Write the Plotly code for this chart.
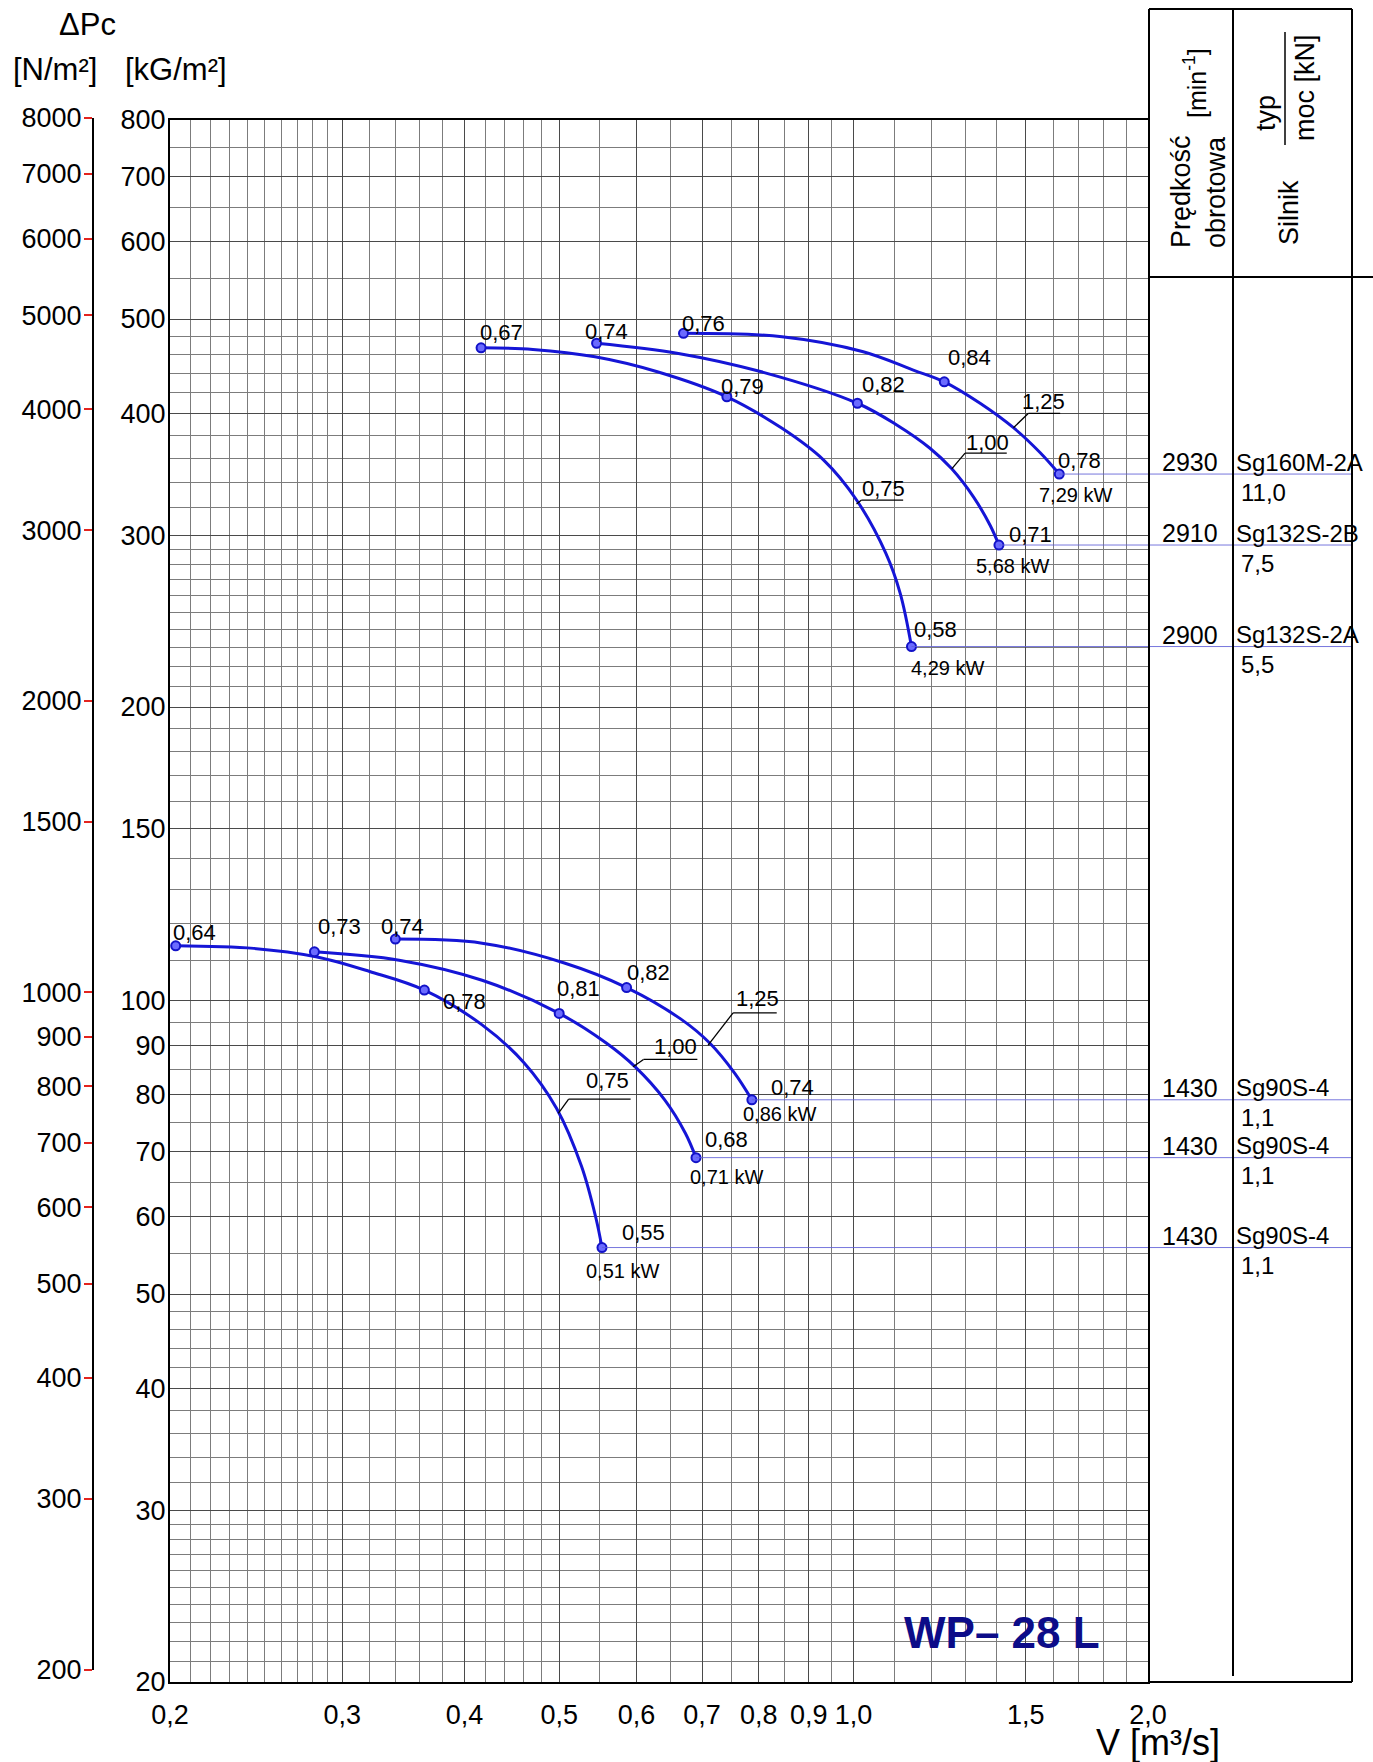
import math
import plotly.graph_objects as go

# ---------------------------------------------------------------
# WP-28 L fan characteristics
# V - volume flow [m3/s], dPc - pressure [kG/m2]
# ---------------------------------------------------------------

# n ~ 2900 min^-1
v_hi_075 = [0.416, 0.470, 0.544, 0.630, 0.742, 0.845, 0.932, 1.007, 1.079, 1.116, 1.146]
p_hi_075 = [467.1, 465.3, 457.3, 441.4, 416.1, 386.2, 358.3, 326.1, 287.5, 261.6, 230.7]
eff_hi_075 = ["0,67", "0,79", "0,58"]

v_hi_100 = [0.546, 0.662, 0.805, 1.009, 1.107, 1.197, 1.260, 1.326, 1.379, 1.408]
p_hi_100 = [472.2, 461.0, 441.4, 409.8, 389.3, 368.5, 351.0, 328.5, 307.2, 293.2]
eff_hi_100 = ["0,74", "0,82", "0,71"]

v_hi_125 = [0.670, 0.845, 1.023, 1.151, 1.238, 1.347, 1.457, 1.551, 1.623]
p_hi_125 = [483.4, 479.5, 462.8, 443.2, 431.1, 409.8, 386.8, 364.8, 346.7]
eff_hi_125 = ["0,76", "0,84", "0,78"]

# n = 1430 min^-1
v_lo_075 = [0.2027, 0.2436, 0.282, 0.320, 0.364, 0.417, 0.460, 0.497, 0.527, 0.545, 0.553]
p_lo_075 = [113.8, 113.1, 110.9, 107.1, 102.5, 94.4, 86.4, 77.5, 67.6, 59.9, 55.8]
eff_lo_075 = ["0,64", "0,78", "0,55"]

v_lo_100 = [0.281, 0.343, 0.417, 0.500, 0.559, 0.598, 0.641, 0.673, 0.690]
p_lo_100 = [112.2, 110.0, 104.9, 97.0, 90.4, 85.5, 79.1, 73.1, 69.0]
eff_lo_100 = ["0,73", "0,81", "0,68"]

v_lo_125 = [0.340, 0.417, 0.507, 0.586, 0.666, 0.713, 0.756, 0.787]
p_lo_125 = [115.6, 114.5, 109.2, 103.1, 95.7, 90.4, 84.2, 79.1]
eff_lo_125 = ["0,74", "0,82", "0,74"]

# per-curve labels (order: hi 0,75 / 1,00 / 1,25, lo 0,75 / 1,00 / 1,25)
impeller_size = ["0,75", "1,00", "1,25", "0,75", "1,00", "1,25"]
shaft_power = ["4,29 kW", "5,68 kW", "7,29 kW", "0,51 kW", "0,71 kW", "0,86 kW"]
motor_rpm = ["2900", "2910", "2930", "1430", "1430", "1430"]
motor_type = ["Sg132S-2A", "Sg132S-2B", "Sg160M-2A", "Sg90S-4", "Sg90S-4", "Sg90S-4"]
motor_power = ["5,5", "7,5", "11,0", "1,1", "1,1", "1,1"]

# points on the curves where the impeller-size leaders start
leader_v = [1.007, 1.260, 1.457, 0.499, 0.595, 0.710]
leader_p = [323.0, 351.0, 386.8, 76.6, 85.5, 90.0]

# axes
x_ticks = [0.2, 0.3, 0.4, 0.5, 0.6, 0.7, 0.8, 0.9, 1.0, 1.5, 2.0]
x_ticklabels = ["0,2", "0,3", "0,4", "0,5", "0,6", "0,7", "0,8", "0,9", "1,0", "1,5", "2,0"]
y_ticks = [20, 30, 40, 50, 60, 70, 80, 90, 100, 150, 200, 300, 400, 500, 600, 700, 800]
y_ticklabels = [str(t) for t in y_ticks]
yn_ticks = [200, 300, 400, 500, 600, 700, 800, 900, 1000, 1500, 2000, 3000, 4000, 5000, 6000, 7000, 8000]
yn_ticklabels = [str(t) for t in yn_ticks]

X_MIN, X_MAX = 0.2, 2.0
Y_MIN, Y_MAX = 20, 800
YN_MIN, YN_MAX = 200, 8000

# ---------------------------------------------------------------
# page geometry
# ---------------------------------------------------------------
W, H = 1373, 1762
ML, MR, MT, MB = 93, 225, 110, 80
PW = W - ML - MR
PH = H - MT - MB


def fx(px):
    return (px - ML) / PW


def fy(py):
    return (H - MB - py) / PH


FONT = "Liberation Sans, Arial, Helvetica, sans-serif"
BLUE = "#1515d6"
ROWLINE = "rgba(95,95,215,0.85)"
GRID_MAJ = "#4a4a4a"
GRID_MIN = "#7c7c7c"


def rng(a, b, step):
    n = int(round((b - a) / step))
    return [round(a + i * step, 4) for i in range(n + 1)]


x_grid = rng(0.2, 0.3, 0.01) + rng(0.3, 0.5, 0.02) + rng(0.5, 1.0, 0.05) + rng(1.0, 2.0, 0.1)
y_grid = (rng(20, 30, 1) + rng(30, 50, 2) + rng(50, 100, 5) + rng(100, 300, 10)
          + rng(300, 500, 20) + rng(500, 800, 50))
x_grid = sorted(set(x_grid) - set(x_ticks))
y_grid = sorted(set(y_grid) - set(y_ticks))

# label layout for each curve: marker label offsets (left edge dx, centre dy) in px
curves = [
    dict(v=v_hi_075, p=p_hi_075, eff=eff_hi_075, marks=[0, 4, 10],
         eff_off=[(-2, 15), (-7, 10), (2, 17)], kw_off=(-1, -21),
         lead=((5, 4), 46.6, (27, 15.5))),
    dict(v=v_hi_100, p=p_hi_100, eff=eff_hi_100, marks=[0, 3, 9],
         eff_off=[(-13, 12), (4, 19), (9, 11)], kw_off=(-24, -21),
         lead=((13.3, 15.7), 55, (36, 26))),
    dict(v=v_hi_125, p=p_hi_125, eff=eff_hi_125, marks=[0, 4, 8],
         eff_off=[(-2, 10), (3, 24), (-2, 14)], kw_off=(-21, -21),
         lead=((15, 14.4), 46.7, (30, 26.5))),
    dict(v=v_lo_075, p=p_lo_075, eff=eff_lo_075, marks=[0, 4, 10],
         eff_off=[(-4, 13), (18, -11), (19, 15)], kw_off=(-17, -23),
         lead=((10.3, 14.3), 72.3, (49.3, 33.3))),
    dict(v=v_lo_100, p=p_lo_100, eff=eff_lo_100, marks=[0, 3, 8],
         eff_off=[(3, 25), (-3, 25), (8, 18)], kw_off=(-7, -19),
         lead=((10.4, 7.4), 64.3, (42.6, 20.2))),
    dict(v=v_lo_125, p=p_lo_125, eff=eff_lo_125, marks=[0, 3, 7],
         eff_off=[(-15, 13), (-1, 15), (18, 12)], kw_off=(-10, -14),
         lead=((25, 32.3), 68.6, (49, 46.5))),
]

fig = go.Figure()
shapes = []
annotations = []


def text(x, y, s, size, xref="paper", yref="paper", xanchor="center", yanchor="middle",
         xshift=0, yshift=0, angle=0, color="black", align="center"):
    annotations.append(dict(x=x, y=y, xref=xref, yref=yref, text=s, showarrow=False,
                            xanchor=xanchor, yanchor=yanchor, xshift=xshift, yshift=yshift,
                            textangle=angle, align=align, borderpad=0,
                            font=dict(family=FONT, size=size, color=color)))


for i, c in enumerate(curves):
    fig.add_trace(go.Scatter(x=c["v"], y=c["p"], mode="lines",
                             line=dict(color=BLUE, width=3, shape="spline", smoothing=1.0),
                             hoverinfo="skip", showlegend=False))
    mv = [c["v"][k] for k in c["marks"]]
    mp = [c["p"][k] for k in c["marks"]]
    fig.add_trace(go.Scatter(x=mv, y=mp, mode="markers",
                             marker=dict(size=9, color="#6b6bff", line=dict(color="#1212c8", width=2)),
                             hoverinfo="skip", showlegend=False))
    # efficiency labels
    for lab, vv, pp, (dx, dy) in zip(c["eff"], mv, mp, c["eff_off"]):
        text(math.log10(vv), math.log10(pp), lab, 22, xref="x", yref="y",
             xanchor="left", xshift=dx, yshift=dy)
    # shaft power at the end point
    dx, dy = c["kw_off"]
    text(math.log10(mv[-1]), math.log10(mp[-1]), shaft_power[i], 20, xref="x", yref="y",
         xanchor="left", xshift=dx, yshift=dy)

    # leader to the row of the motor table
    shapes.append(dict(type="line", xref="x", yref="y", x0=mv[-1], x1=X_MAX, y0=mp[-1], y1=mp[-1],
                       line=dict(color=ROWLINE, width=1)))
    shapes.append(dict(type="line", xref="paper", yref="y", x0=1.0, x1=fx(1352), y0=mp[-1], y1=mp[-1],
                       line=dict(color=ROWLINE, width=1)))
    ly = math.log10(mp[-1])
    text(fx(1219), ly, motor_rpm[i], 25, yref="y", xanchor="right", yshift=12)
    text(fx(1235), ly, motor_type[i], 24, yref="y", xanchor="left", yshift=12)
    text(fx(1240), ly, motor_power[i], 24, yref="y", xanchor="left", yshift=-18)

    # impeller size leader: diagonal + underline, text above
    (ex, ey), ux, (tx, ty) = c["lead"]
    av, ap = leader_v[i], leader_p[i]
    for x0, y0, x1, y1 in [(0, 0, ex, ey), (ex, ey, ux, ey)]:
        shapes.append(dict(type="line", xref="x", yref="y", xsizemode="pixel", ysizemode="pixel",
                           xanchor=av, yanchor=ap, x0=x0, y0=y0, x1=x1, y1=y1,
                           line=dict(color="black", width=1.3)))
    text(math.log10(av), math.log10(ap), impeller_size[i], 22, xref="x", yref="y",
         xshift=tx, yshift=ty)

# carrier for the N/m2 scale
fig.add_trace(go.Scatter(x=[0.3], y=[1000], xaxis="x2", yaxis="y2", mode="markers",
                         marker=dict(opacity=0), hoverinfo="skip", showlegend=False))

# ---------------------------------------------------------------
# motor table
# ---------------------------------------------------------------
def pline(x0, y0, x1, y1, w=2):
    shapes.append(dict(type="line", xref="paper", yref="paper",
                       x0=fx(x0), y0=fy(y0), x1=fx(x1), y1=fy(y1),
                       line=dict(color="black", width=w)))


pline(1149, 9, 1352, 9)
pline(1149, 9, 1149, 1682)
pline(1233, 9, 1233, 1676)
pline(1352, 9, 1352, 1682)
pline(1149, 277, 1373, 277)
pline(1148, 1682, 1352, 1682)
pline(1285, 32, 1285, 145, 1.5)

text(fx(1198), fy(192), "Prędkość<br>obrotowa", 27, angle=-90, align="left")
text(fx(1195), fy(83), "[min<sup>-1</sup>]", 25, angle=-90)
text(fx(1289), fy(213), "Silnik", 27, angle=-90)
text(fx(1266), fy(113), "typ", 27, angle=-90)
text(fx(1305), fy(88), "moc [kN]", 27, angle=-90)

# axis captions
text(fx(87), fy(24), "ΔPc", 31)
text(fx(55), fy(69), "[N/m²]", 31)
text(fx(176), fy(69), "[kG/m²]", 31)
text(fx(1158), fy(1742), "V [m³/s]", 36)
text(fx(1002), fy(1632), "<b>WP– 28 L</b>", 44, color="#0c0c88")

tickfont = dict(family=FONT, size=27, color="black")

fig.update_layout(
    width=W, height=H,
    margin=dict(l=ML, r=MR, t=MT, b=MB, pad=0),
    paper_bgcolor="white", plot_bgcolor="rgba(0,0,0,0)",
    showlegend=False,
    xaxis=dict(type="log", range=[math.log10(X_MIN), math.log10(X_MAX)],
               domain=[fx(170), fx(1148)], anchor="y",
               tickvals=x_ticks, ticktext=x_ticklabels, ticks="", tickfont=tickfont,
               ticklabelstandoff=8,
               showgrid=True, gridcolor=GRID_MAJ, gridwidth=1,
               minor=dict(tickvals=x_grid, showgrid=True, gridcolor=GRID_MIN, gridwidth=1, ticks=""),
               showline=True, linecolor="black", linewidth=2, mirror=True, zeroline=False),
    yaxis=dict(type="log", range=[math.log10(Y_MIN), math.log10(Y_MAX)],
               domain=[fy(1682), fy(120)], anchor="x",
               tickvals=y_ticks, ticktext=y_ticklabels, ticks="", tickfont=tickfont,
               ticklabelstandoff=-3,
               showgrid=True, gridcolor=GRID_MAJ, gridwidth=1,
               minor=dict(tickvals=y_grid, showgrid=True, gridcolor=GRID_MIN, gridwidth=1, ticks=""),
               showline=True, linecolor="black", linewidth=2, mirror=True, zeroline=False),
    xaxis2=dict(type="log", range=[math.log10(X_MIN), math.log10(X_MAX)],
                domain=[fx(170), fx(1148)], anchor="y2", visible=False),
    yaxis2=dict(type="log", range=[math.log10(YN_MIN), math.log10(YN_MAX)],
                domain=[fy(1669.5), fy(117.7)], anchor="free", position=0, side="left",
                tickvals=yn_ticks, ticktext=yn_ticklabels, tickfont=tickfont,
                ticks="outside", ticklen=8, tickwidth=2, tickcolor="#e3241f",
                ticklabelstandoff=-3,
                showgrid=False, showline=True, linecolor="black", linewidth=2, zeroline=False),
    shapes=shapes,
    annotations=annotations,
)

fig.write_html("out.html")
